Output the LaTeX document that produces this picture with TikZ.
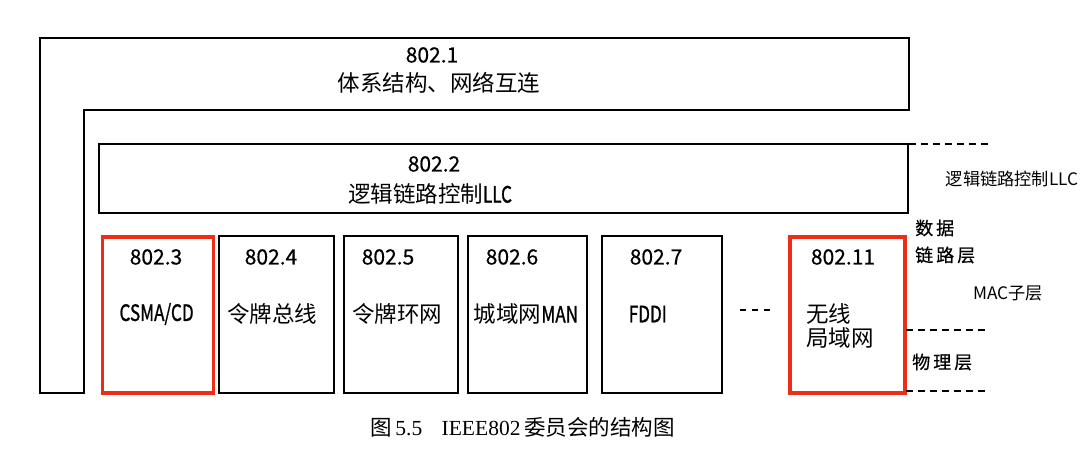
\documentclass[tikz,border=0pt]{standalone}
\usepackage{fontspec}
\setmainfont{Noto Sans CJK SC}
\newfontfamily\capserif{Liberation Serif}
\newfontfamily\capcjk{Noto Sans CJK SC}
\newfontfamily\cond[FakeStretch=0.76,FakeBold=1]{Noto Sans CJK SC}
\newfontfamily\numf[FakeBold=0.5]{Noto Sans CJK SC}
\newfontfamily\sidebold[FakeBold=0.6]{Noto Sans CJK SC}
\definecolor{redc}{RGB}{238,45,22}
\begin{document}
\begin{tikzpicture}[x=1pt,y=-1pt,
  box/.style={draw=black, line width=2pt, inner sep=0pt},
  redbox/.style={draw=redc, line width=3.2pt, inner sep=0pt},
  num/.style={font=\numf\fontsize{21}{24}\selectfont, inner sep=0pt},
  lab/.style={font=\fontsize{22.5}{24}\selectfont, inner sep=0pt},
  side/.style={font=\fontsize{17.2}{20}\selectfont, inner sep=0pt},
  layer/.style={font=\sidebold\fontsize{18}{20}\selectfont, inner sep=0pt, anchor=west},
  dline/.style={line width=2pt, dash pattern=on 7pt off 5pt}]
\useasboundingbox (0,0) rectangle (1091,452);
% outer L-shaped 802.1 frame
\draw[line width=2pt] (40,38.5) -- (908.5,38.5) -- (908.5,109.5) -- (84,109.5) -- (84,393) -- (40,393) -- cycle;
\node[num] (n1) at (432,55) {802.1};
\node[lab] (t1) at (439,83) {体系结构、网络互连};
% LLC box
\node[box, minimum width=809pt, minimum height=69pt] (llc) at (503.5,178.5) {};
\node[num] (n2) at (434,164) {802.2};
\node[lab] (t2) at (430,194) {逻辑链路控制{\cond LLC}};
% MAC boxes
\node[redbox, minimum width=111pt, minimum height=156pt] (b3) at (158,315) {};
\node[box, minimum width=115pt, minimum height=157pt] (b4) at (276.5,314.5) {};
\node[box, minimum width=114pt, minimum height=157pt] (b5) at (401,314.5) {};
\node[box, minimum width=119pt, minimum height=157pt] (b6) at (527.5,314.5) {};
\node[box, minimum width=120pt, minimum height=157pt] (b7) at (662,314.5) {};
\node[redbox, minimum width=115pt, minimum height=156pt] (b11) at (847.5,315) {};
\node[num] (n3) at (156,257) {802.3};
\node[num] (n4) at (271,257) {802.4};
\node[num] (n5) at (388,257) {802.5};
\node[num] (n6) at (512,257) {802.6};
\node[num] (n7) at (656,257) {802.7};
\node[num] (n11) at (843,257) {802.11};
\node[lab] (l3) at (156.6,314) {\cond CSMA/CD};
\node[lab] (l4) at (272,314) {令牌总线};
\node[lab] (l5) at (397,314) {令牌环网};
\node[lab] (l6) at (526,314) {城域网{\cond MAN}};
\node[lab, anchor=west] (l7) at (628.6,314) {\cond FDDI};
\node[lab, anchor=west, align=left] (l11) at (806,326) {无线\\局域网};
\coordinate (dotsA) at (740,310);
\coordinate (dotsB) at (770,310);
\draw[line width=2pt, dash pattern=on 6pt off 6pt] (dotsA) -- (dotsB);
% dashed layer boundaries
\coordinate (d1a) at (909,144); \coordinate (d1b) at (989,144);
\coordinate (d2a) at (906,330); \coordinate (d2b) at (987,330);
\coordinate (d3a) at (906,391); \coordinate (d3b) at (987,391);
\draw[dline] (d1a) -- (d1b);
\draw[dline] (d2a) -- (d2b);
\draw[dline] (d3a) -- (d3b);
% side labels
\node[side] (sllc) at (1012,179) {逻辑链路控制LLC};
\node[layer] (s1) at (915,228) {数\,据};
\node[layer] (s2) at (915,255) {链\,路\,层};
\node[side] (smac) at (1008,293) {MAC子层};
\node[layer] (s3) at (912,362) {物\,理\,层};
% caption
\node[inner sep=0pt, font=\fontsize{21.5}{24}\selectfont] (cap) at (522.5,427) {\capcjk 图\,{\capserif 5.5}\hspace{0.9em}{\capserif IEEE802}\,委员会的结构图};
\end{tikzpicture}
\end{document}
